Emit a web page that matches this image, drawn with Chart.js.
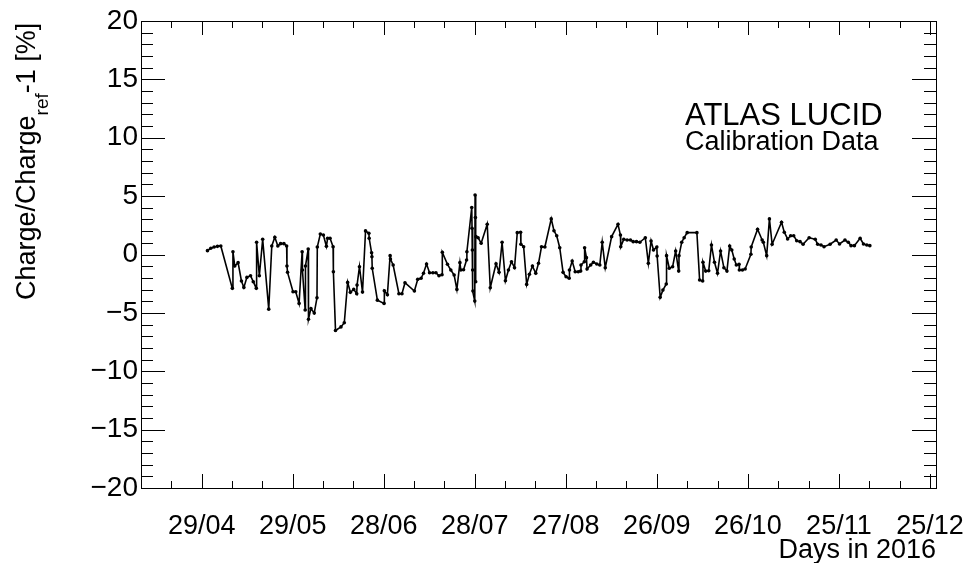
<!DOCTYPE html>
<html lang="en">
<head>
    <title>ATLAS LUCID Calibration Data</title>
    <script src="https://cdn.jsdelivr.net/npm/chart.js"></script>
    <style>
        html, body { margin: 0; padding: 0; background: #fff; }
    </style>
</head>
<body>
    <canvas id="myChart" width="966" height="563"></canvas>
    <script>
        // day of year 2016 (1 = 1 Jan)
        const days = [
            121.9, 123.0, 124.1, 125.2, 126.3, 130.1, 130.3, 130.9, 132.0, 133.1,
            133.9, 134.9, 136.1, 137.0, 138.0, 138.1, 139.0, 140.1, 142.1, 143.1,
            144.1, 145.1, 146.0, 147.1, 148.0, 148.1, 148.3, 150.1, 151.0, 152.1,
            153.1, 153.2, 154.1, 154.2, 155.1, 155.2, 156.0, 157.1, 158.0, 158.1,
            159.1, 160.1, 161.1, 161.5, 162.3, 163.3, 163.4, 164.1, 165.9, 167.0,
            168.1, 169.0, 170.1, 171.1, 171.2, 172.0, 173.0, 174.0, 175.1, 175.2,
            176.0, 176.1, 176.2, 177.9, 180.1, 180.2, 181.2, 182.1, 182.2, 183.1,
            185.0, 186.0, 187.0, 190.1, 191.2, 192.3, 193.1, 194.1, 195.1, 196.2,
            197.2, 198.2, 199.2, 199.3, 201.0, 202.1, 203.2, 204.1, 205.1, 205.4,
            206.3, 207.3, 207.4, 209.0, 209.1, 209.2, 209.3, 209.4, 210.0, 210.1,
            210.2, 210.3, 210.4, 211.1, 212.1, 214.1, 215.1, 217.0, 218.0, 219.0,
            220.1, 221.1, 222.1, 223.1, 224.0, 225.1, 225.2, 226.1, 227.1, 228.0,
            229.0, 230.1, 231.0, 232.0, 233.1, 235.2, 236.1, 237.0, 238.0, 239.1,
            240.1, 241.1, 241.2, 242.1, 243.1, 244.1, 244.9, 245.0, 246.1, 246.2,
            246.8, 247.0, 248.2, 249.1, 250.2, 251.2, 252.0, 253.0, 255.1, 257.2,
            258.0, 258.1, 259.1, 260.2, 261.3, 262.2, 263.3, 264.4, 266.2, 267.2,
            268.1, 268.9, 270.0, 270.1, 271.1, 272.0, 273.1, 273.2, 274.1, 275.2,
            276.2, 277.2, 277.3, 278.2, 279.0, 280.0, 283.2, 284.1, 285.1, 285.2,
            286.1, 287.1, 288.0, 289.0, 290.0, 291.0, 292.1, 293.1, 294.0, 294.7,
            295.5, 296.2, 297.1, 297.2, 298.2, 299.1, 301.0, 301.1, 303.2, 304.7,
            305.1, 306.2, 307.1, 308.0, 311.1, 312.0, 313.1, 314.1, 315.1, 316.1,
            317.2, 318.2, 320.2, 322.2, 323.0, 324.1, 325.1, 327.1, 329.1, 330.2,
            332.0, 333.1, 334.0, 335.1, 337.0, 338.1, 339.2, 340.2
        ];

        // Charge/Charge_ref - 1 in percent
        const chargeDev = [
            0.33, 0.53, 0.64, 0.70, 0.73, -2.90, 0.24, -0.99, -0.70, -2.27,
            -2.82, -1.96, -1.82, -2.33, -2.90, 1.05, -1.82, 1.30, -4.68, 0.73,
            1.48, 0.73, 0.93, 0.93, 0.73, -0.99, -1.53, -3.19, -3.19, -4.19,
            0.24, -1.33, -4.76, -0.99, 0.47, -5.54, -4.62, -5.02, -3.70, 0.64,
            1.76, 1.67, 0.70, 1.39, 1.39, 0.67, -1.48, -6.51, -6.20, -5.85,
            -2.39, -3.24, -2.99, -3.36, -2.62, -1.05, -3.22, 2.02, 1.82, 1.39,
            0.15, -0.19, -1.18, -3.91, -4.19, -3.11, -3.45, -0.10, -0.39, -0.90,
            -3.36, -3.36, -2.42, -3.13, -2.13, -2.04, -1.61, -0.82, -1.56, -1.56,
            -1.56, -1.82, -1.73, 0.19, -0.84, -1.33, -1.76, -2.99, -0.70, -1.33,
            -1.30, -0.47, 0.24, 4.02, 2.25, 0.39, -1.33, -3.13, -3.99, 5.10,
            3.16, -2.33, 1.53, 1.44, 0.96, 2.59, -2.85, -0.79, -1.53, 1.05,
            -2.25, -1.33, -0.62, -1.13, 1.87, 1.91, 0.88, 0.67, -2.56, -1.70,
            -0.99, -1.61, -0.76, 0.67, 0.64, 3.05, 2.04, 1.61, 0.58, -1.53,
            -1.91, -2.04, -1.33, -0.56, -1.48, -1.48, -1.42, -0.90, -0.62, 0.58,
            -0.27, -1.24, -0.90, -0.67, -0.82, -0.90, 1.05, -1.13, 1.53, 2.59,
            1.67, 0.67, 1.30, 1.24, 1.24, 1.10, 1.10, 1.05, 1.44, -0.76,
            1.16, 0.39, 0.64, -0.13, -3.67, -3.05, -2.53, -0.10, -1.18, -1.05,
            0.30, -1.42, -0.10, 1.05, 1.44, 1.87, 1.87, -2.19, -2.27, -0.67,
            -1.42, -1.39, 0.82, -0.67, -1.61, 0.30, -1.13, -1.42, 0.73, 0.39,
            -0.39, -0.90, -0.84, -1.33, -1.33, -1.24, 0.02, 0.64, 2.16, 1.24,
            1.05, -0.10, 3.05, 0.88, 2.76, 1.91, 1.33, 1.61, 1.61, 1.18,
            1.10, 0.88, 1.44, 1.30, 0.88, 0.82, 0.67, 0.88, 1.24, 0.90,
            1.24, 1.05, 0.76, 0.76, 1.39, 0.90, 0.82, 0.76
        ];

        const xTickDays = [120, 150, 180, 210, 240, 270, 300, 330, 360];
        const xTickLabels = ['29/04', '29/05', '28/06', '28/07', '27/08', '26/09', '26/10', '25/11', '25/12'];
        const yTickValues = [-20, -15, -10, -5, 0, 5, 10, 15, 20];
        const yTickLabels = ['\u221220', '\u221215', '\u221210', '\u22125', '0', '5', '10', '15', '20'];

        const FONT = 'Liberation Sans, Arial, Helvetica, sans-serif';

        // ROOT-like frame with inward ticks on all four sides, plus labels
        const frameTicks = {
            id: 'frameTicks',
            afterDraw(chart) {
                const ctx = chart.ctx;
                const a = chart.chartArea;
                const xs = chart.scales.x;
                const ys = chart.scales.y;
                ctx.save();
                ctx.strokeStyle = '#000';
                ctx.lineWidth = 1;
                ctx.strokeRect(a.left + 0.5, a.top + 0.5, a.right - a.left, a.bottom - a.top);
                ctx.beginPath();
                for (let d = 100; d <= xs.max; d += 10) {
                    const px = Math.round(xs.getPixelForValue(d)) + 0.5;
                    const len = (d - 120) % 30 === 0 ? 14 : 7;
                    ctx.moveTo(px, a.bottom); ctx.lineTo(px, a.bottom - len);
                    ctx.moveTo(px, a.top); ctx.lineTo(px, a.top + len);
                }
                for (let v = ys.min; v <= ys.max; v += 1) {
                    const py = Math.round(ys.getPixelForValue(v)) + 0.5;
                    const len = v % 5 === 0 ? 24 : 12;
                    ctx.moveTo(a.left, py); ctx.lineTo(a.left + len, py);
                    ctx.moveTo(a.right, py); ctx.lineTo(a.right - len, py);
                }
                ctx.stroke();

                ctx.fillStyle = '#000';
                ctx.textAlign = 'left';
                ctx.textBaseline = 'alphabetic';
                ctx.font = '31px ' + FONT;
                ctx.fillText('ATLAS LUCID', 685, 125);
                ctx.font = '27px ' + FONT;
                ctx.fillText('Calibration Data', 685, 150);

                ctx.textAlign = 'right';
                ctx.fillText('Days in 2016', a.right, 558);

                // y axis title with subscript
                ctx.textAlign = 'left';
                ctx.translate(35, 300);
                ctx.rotate(-Math.PI / 2);
                ctx.font = '27px ' + FONT;
                let x = 0;
                ctx.fillText('Charge/Charge', x, 0);
                x += ctx.measureText('Charge/Charge').width;
                ctx.font = '19px ' + FONT;
                ctx.fillText('ref', x, 13);
                x += ctx.measureText('ref').width;
                ctx.font = '27px ' + FONT;
                ctx.fillText('-1 [%]', x, 0);
                ctx.restore();
            }
        };

        const ctx = document.getElementById('myChart').getContext('2d');
        const chart = new Chart(ctx, {
            type: 'scatter',
            data: {
                datasets: [{
                    data: days.map((d, i) => ({ x: d, y: chargeDev[i] })),
                    showLine: true,
                    borderColor: '#000',
                    backgroundColor: '#000',
                    borderWidth: 1.6,
                    pointRadius: 1.8,
                    pointBorderWidth: 0
                }]
            },
            options: {
                responsive: false,
                animation: false,
                layout: { padding: { left: 0, top: 21, right: 30, bottom: 0 } },
                plugins: {
                    legend: { display: false },
                    tooltip: { enabled: false }
                },
                scales: {
                    x: {
                        type: 'linear',
                        min: 100,
                        max: 362,
                        grid: { display: false, drawTicks: false },
                        border: { display: false },
                        afterBuildTicks: (scale) => {
                            scale.ticks = xTickDays.map(v => ({ value: v }));
                        },
                        afterFit: (scale) => {
                            scale.height = 75;
                            scale.paddingLeft = 0;
                            scale.paddingRight = 0;
                        },
                        ticks: {
                            color: '#000',
                            font: { family: FONT, size: 27 },
                            padding: 22,
                            maxRotation: 0,
                            autoSkip: false,
                            callback: (v, i) => xTickLabels[i]
                        }
                    },
                    y: {
                        min: -20,
                        max: 20,
                        grid: { display: false, drawTicks: false },
                        border: { display: false },
                        afterBuildTicks: (scale) => {
                            scale.ticks = yTickValues.map(v => ({ value: v }));
                        },
                        afterFit: (scale) => { scale.width = 141; },
                        ticks: {
                            color: '#000',
                            font: { family: FONT, size: 28 },
                            padding: 3,
                            autoSkip: false,
                            callback: (v, i) => yTickLabels[i]
                        }
                    }
                }
            },
            plugins: [frameTicks]
        });
    </script>
</body>
</html>
